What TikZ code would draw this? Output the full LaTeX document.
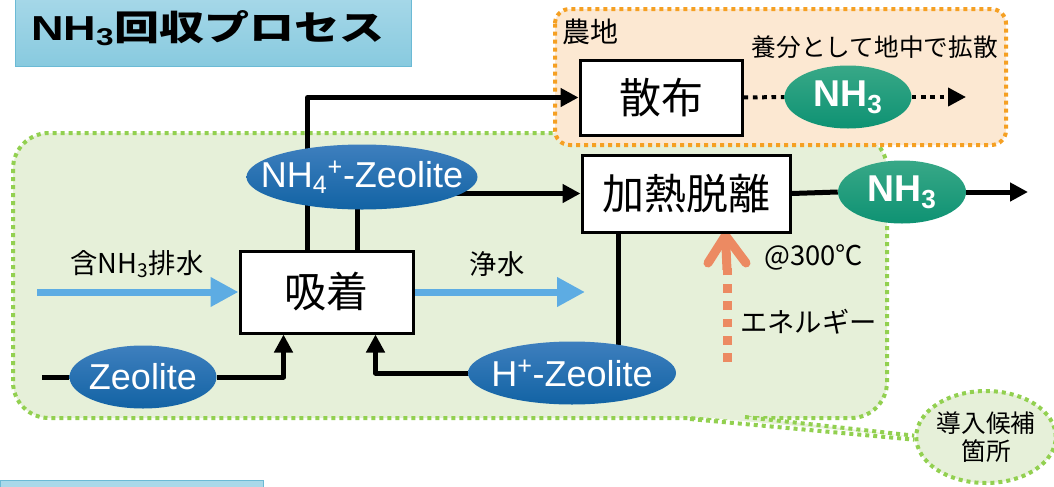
\documentclass[tikz,border=0pt]{standalone}
\usepackage{fontspec}
\setmainfont{Noto Sans CJK JP}
\newfontfamily\lat{Liberation Sans}
\usetikzlibrary{arrows.meta,shapes.geometric,calc}
\pgfdeclarelayer{regions}
\pgfdeclarelayer{lines}
\pgfsetlayers{regions,lines,main}
\definecolor{zbtop}{HTML}{3E7FBE}
\definecolor{zbbot}{HTML}{1263A4}
\definecolor{gtop}{HTML}{38A887}
\definecolor{gbot}{HTML}{0E9273}
\definecolor{greenfill}{HTML}{E6F0D9}
\definecolor{greenline}{HTML}{92D050}
\definecolor{orfill}{HTML}{FCE8D2}
\definecolor{orline}{HTML}{F5A023}
\definecolor{water}{HTML}{5DACE3}
\definecolor{energy}{HTML}{EC8A62}
\definecolor{titletop}{HTML}{A9D9E9}
\definecolor{titlebot}{HTML}{88CADF}
\definecolor{titleline}{HTML}{6BBAD5}
\newcommand\fs[1]{\fontsize{#1}{#1}\selectfont}
\tikzset{
  box/.style={draw=black, line width=2.25pt, fill=white, inner sep=0pt, font=\fs{31.5pt}},
  elltext/.style={inner sep=0pt, text=white, font=\lat\fs{27pt}},
  blueell/.style={ellipse, inner sep=0pt, top color=zbtop, bottom color=zbbot},
  greenell/.style={ellipse, inner sep=0pt, top color=gtop, bottom color=gbot},
  conn/.style={line width=3.75pt, line join=round},
  arr/.style={conn, -{Triangle[length=13.5pt,width=13.5pt]}},
  dotconn/.style={line width=3pt, dash pattern=on 3.5pt off 3.5pt},
  dotarr/.style={dotconn, -{Triangle[length=13.5pt,width=13.5pt]}},
  waterarr/.style={line width=5.25pt, draw=water, -{Triangle[length=21pt,width=21pt]}},
  regionline/.style={line width=3pt, dash pattern=on 3pt off 3pt},
  lbl/.style={inner sep=0pt, font=\fs{20.5pt}},
}
\begin{document}
\begin{tikzpicture}[x=0.75pt,y=-0.75pt]
\useasboundingbox (0,0) rectangle (1054,486);

% title boxes
\node[draw=titleline, line width=0.75pt, top color=titletop, bottom color=titlebot,
      minimum width=297pt, minimum height=57pt, inner sep=0pt] (title) at (213,28) {};
\node[inner sep=0pt] (titletext) at (208,28)
      {\scalebox{1.3}[1]{\bfseries\fs{26pt}{\lat NH\textsubscript{3}}回収プロセス}};
\node[draw=titleline, line width=0.75pt, fill=titletop, minimum width=197.25pt,
      minimum height=15pt, inner sep=0pt, anchor=north west] (sub) at (0,480) {};

% main nodes
\node[box, minimum width=129.75pt, minimum height=61.5pt] (ads) at (326.5,292) {吸着};
\node[box, minimum width=156pt, minimum height=57.75pt] (heat) at (686,193.5) {加熱脱離};
\node[box, minimum width=121.5pt, minimum height=56.25pt] (spread) at (661,97.5) {散布};

\node[blueell, minimum width=173.25pt, minimum height=48.75pt,
  label={[elltext]center:NH\textsubscript{4}\textsuperscript{+}-Zeolite}] (nh4) at (362,177) {};
\node[blueell, minimum width=110.25pt, minimum height=47.25pt,
  label={[elltext]center:Zeolite}] (zeo) at (143,377) {};
\node[blueell, minimum width=156pt, minimum height=47.25pt,
  label={[elltext]center:H\textsuperscript{+}-Zeolite}] (hz) at (572,373) {};
\node[greenell, minimum width=95.25pt, minimum height=47.25pt,
  label={[elltext, font=\lat\bfseries\fs{28pt}]center:NH\textsubscript{3}}] (nh3a) at (848,97) {};
\node[greenell, minimum width=96pt, minimum height=47.25pt,
  label={[elltext, font=\lat\bfseries\fs{28pt}]center:NH\textsubscript{3}}] (nh3b) at (902,192) {};

\node[ellipse, draw=greenline, fill=greenfill, regionline, minimum width=101.25pt,
      minimum height=69pt, inner sep=0pt, align=center, font=\fs{18.5pt}] (callout) at (986,437)
      {導入候補\\[2pt]箇所};

% labels
\node[lbl] (lin) at (137,264) {含NH\textsubscript{3}排水};
\node[lbl] (lout) at (497,264) {浄水};
\node[lbl, anchor=west] (ltemp) at (764,257) {@300℃};
\node[lbl, anchor=west] (lenergy) at (740,322) {エネルギー};
\node[lbl, anchor=west, font=\fs{21pt}] (lfarm) at (562,32) {農地};
\node[lbl, anchor=east, font=\fs{18.5pt}] (ldiff) at (998,47) {養分として地中で拡散};

% regions
\begin{pgfonlayer}{regions}
  \draw[regionline, draw=greenline, fill=greenfill, rounded corners=27pt]
    (13,133) rectangle (887,418);
  \fill[greenfill] (690,416) -- (callout.west) -- (745,416) -- cycle;
  \draw[regionline, draw=greenline] (690,419) -- ([yshift=-2pt]callout.west);
  \draw[regionline, draw=greenline] (745,417) -- ([yshift=1pt]callout.west);
  \draw[regionline, draw=orline, fill=orfill, rounded corners=11pt]
    (555,9) rectangle (1006,145);
\end{pgfonlayer}

% connectors
\begin{pgfonlayer}{lines}
  \coordinate (zin) at (42,377);
  \coordinate (win) at (37,292);
  \coordinate (wout) at (585,292);
  \coordinate (nh3out) at (1028,192);
  \coordinate (diffout) at (966,97);
  \coordinate (ebot) at (727,362);

  \draw[arr] ($(ads.north west)+(69,0)$) |- (spread.west);
  \draw[conn] ($(ads.north west)+(119,0)$) coordinate (a2) -- (a2 |- nh4.center);
  \draw[arr] (nh4.center |- heat.west) -- (heat.west);
  \draw[conn] (zin) -- (zeo.west);
  \draw[arr] (zeo.east) -| ($(ads.south west)+(45,0)$);
  \draw[arr] (hz.west) -| ($(ads.south west)+(137,0)$);
  \draw[conn] ($(heat.south west)+(38,0)$) coordinate (h1) -- (h1 |- hz.center);
  \draw[conn] (heat.east) -- (nh3b.west);
  \draw[arr] (nh3b.east) -- (nh3out);
  \draw[dotconn] (spread.east) -- (nh3a.west);
  \draw[dotarr] (nh3a.east) -- (diffout);
  \draw[waterarr] (win) -- (ads.west);
  \draw[waterarr] (ads.east) -- (wout);
  % energy arrow
  \draw[energy, line width=6.75pt, dash pattern=on 6.5pt off 6.5pt] (ebot) -- (727,268);
  \draw[energy, line width=6.75pt, line cap=round, line join=round]
    (708,263) -- ($(heat.south west)+(145,2)$) coordinate (etip) -- (746,263);
  \draw[energy, line width=6.75pt] (etip) -- (727,270);
\end{pgfonlayer}
\end{tikzpicture}
\end{document}
